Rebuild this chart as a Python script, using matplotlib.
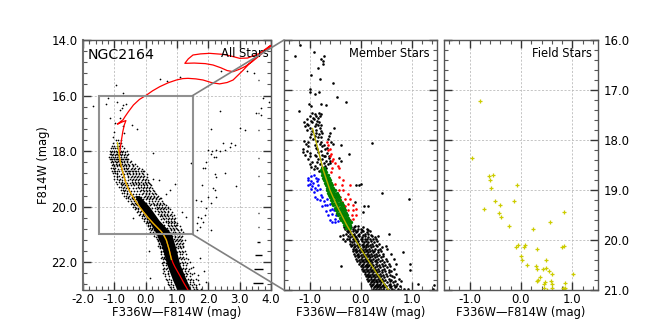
import matplotlib
matplotlib.use('Agg')
import matplotlib.pyplot as plt
from matplotlib.patches import ConnectionPatch, Rectangle
from matplotlib.ticker import MultipleLocator, FormatStrFormatter

# isochrone
iso_x = [1.35, 1.22, 1.1, 1.0, 0.93, 0.87, 0.82, 0.75, 0.66, 0.58, 0.5, 0.38, 0.24, 0.08, -0.08, -0.22, -0.34, -0.46, -0.56, -0.65, -0.72, -0.79, -0.84, -0.82, -0.78, -0.73,
         -0.68, -0.63, -0.75, -0.9, -0.85, -0.72, -0.66, -0.55, -0.39, -0.2, 0.03, 0.22, 0.45, 0.72, 0.98, 1.18, 1.35, 1.6, 1.83, 2.12, 2.36, 2.6, 2.79, 3.1, 3.42, 3.7, 3.98,
         3.7, 3.4, 3.18, 3.0, 2.79, 2.6, 2.4, 2.15, 1.9, 1.55, 1.25, 1.36, 1.51, 1.75, 2.04, 2.5, 2.8, 3.0, 3.25, 3.64, 3.98]
iso_y = [23, 22.75, 22.5, 22.3, 22.16, 22.02, 21.86, 21.55, 21.2, 21.03, 20.9, 20.76, 20.6, 20.4, 20.18, 19.97, 19.76, 19.55, 19.34, 19.08, 18.8, 18.5, 18.2, 17.95, 17.65, 17.3,
         17.05, 16.9, 16.95, 17.03, 16.98, 16.87, 16.76, 16.58, 16.34, 16.14, 15.98, 15.83, 15.68, 15.54, 15.44, 15.39, 15.38, 15.4, 15.44, 15.54, 15.58, 15.53, 15.44, 15.1, 14.72, 14.46, 14.22,
         14.5, 14.78, 14.95, 15.05, 15.14, 15.1, 15.0, 14.9, 14.85, 14.83, 14.84, 14.68, 14.54, 14.5, 14.48, 14.52, 14.6, 14.66, 14.65, 14.48, 14.2]
ridge_x = [-0.94, -0.83, -0.73, -0.6, -0.47, -0.27, 0.02, 0.32, 0.55]
ridge_y = [17.77, 18.2, 18.6, 19.0, 19.3, 19.7, 20.2, 20.67, 21.0]
ridge_all_x = [-0.9, -0.84, -0.79, -0.72, -0.65, -0.56, -0.46, -0.34, -0.22, -0.08, 0.08, 0.24, 0.38, 0.5, 0.58, 0.66, 0.75, 0.82]
ridge_all_y = [17.7, 18.2, 18.5, 18.8, 19.08, 19.34, 19.55, 19.76, 19.97, 20.18, 20.4, 20.6, 20.76, 20.9, 21.03, 21.2, 21.55, 21.9]

# solid core of the main sequence in the left panel
core_mag = [19.6, 20.0, 20.48, 20.96, 21.44, 22.04, 22.64, 23.0]
core_left = [-0.35, -0.2, 0.08, 0.33, 0.52, 0.66, 0.86, 1.0]
core_right = [-0.2, 0.12, 0.42, 0.82, 0.95, 1.08, 1.3, 1.45]

# left panel stars, magnitude rows
all_rows = [
    (17.6, [-0.95, -0.88, -0.8]),
    (17.7, [-1.03, -0.92, -0.85, -0.78]),
    (17.8, [-1.08, -1.0, -0.93, -0.85, -0.75]),
    (17.9, [-1.12, -1.05, -0.98, -0.9, -0.82, -0.7]),
    (18.0, [-1.15, -1.08, -1.02, -0.95, -0.88, -0.8, -0.72, -0.6]),
    (18.1, [-1.15, -1.1, -1.03, -0.96, -0.9, -0.83, -0.75, -0.66, -0.55]),
    (18.2, [-1.18, -1.1, -1.05, -0.98, -0.92, -0.85, -0.78, -0.7, -0.62]),
    (18.3, [-1.12, -1.06, -1.0, -0.94, -0.87, -0.8, -0.72, -0.64, -0.55]),
    (18.4, [-1.1, -1.03, -0.96, -0.9, -0.83, -0.75, -0.68, -0.6, -0.5]),
    (18.5, [-1.06, -1.0, -0.93, -0.86, -0.78, -0.7, -0.62, -0.52, -0.42]),
    (18.6, [-1.1, -1.04, -0.97, -0.7, -0.62, -0.55, -0.45, -0.35, -0.2]),
    (18.7, [-1.08, -1.0, -0.93, -0.65, -0.57, -0.5, -0.4, -0.3, -0.15, -0.05]),
    (18.8, [-1.05, -0.98, -0.9, -0.6, -0.52, -0.42, -0.32, -0.22, -0.12]),
    (18.9, [-1.0, -0.92, -0.85, -0.55, -0.45, -0.35, -0.25, -0.15, -0.05]),
    (19.0, [-1.0, -0.9, -0.82, -0.5, -0.4, -0.3, -0.2, -0.1, 0.0]),
    (19.1, [-0.95, -0.85, -0.75, -0.45, -0.35, -0.25, -0.15, -0.03, 0.08]),
    (19.2, [-0.9, -0.8, -0.72, -0.4, -0.3, -0.2, -0.1, 0.02, 0.15]),
    (19.3, [-0.85, -0.78, -0.7, -0.25, -0.15, -0.05, 0.05, 0.15]),
    (19.4, [-0.8, -0.72, -0.65, -0.15, -0.08, 0.02, 0.12, 0.22]),
    (19.5, [-0.75, -0.68, -0.6, -0.1, 0.0, 0.1, 0.2, 0.3]),
    (19.6, [-0.7, -0.62, -0.52, -0.03, 0.07, 0.17, 0.27, 0.38]),
    (19.7, [-0.62, -0.55, -0.45, 0.03, 0.13, 0.23, 0.33, 0.45]),
    (19.8, [-0.55, -0.47, -0.38, 0.1, 0.2, 0.3, 0.4, 0.52]),
    (19.9, [-0.48, -0.4, -0.3, 0.18, 0.27, 0.37, 0.47, 0.6]),
    (20.0, [-0.42, -0.33, 0.35, 0.43, 0.52, 0.62, 0.72]),
    (20.1, [-0.35, -0.25, 0.35, 0.45, 0.55, 0.65, 0.78]),
    (20.2, [-0.28, -0.18, 0.42, 0.52, 0.62, 0.72, 0.85]),
    (20.3, [-0.2, -0.1, 0.48, 0.58, 0.68, 0.78, 0.9]),
    (20.4, [-0.12, -0.03, 0.55, 0.65, 0.75, 0.85, 0.95]),
    (20.5, [-0.05, 0.03, 0.65, 0.72, 0.82, 0.92]),
    (20.6, [0.0, 0.08, 0.7, 0.8, 0.9, 1.0]),
    (20.7, [0.08, 0.15, 0.75, 0.85, 0.95, 1.08]),
    (20.8, [0.12, 0.2, 0.82, 0.9, 1.0, 1.12]),
    (20.9, [0.15, 0.22, 0.88, 0.95, 1.05, 1.2]),
    (21.0, [0.25, 0.32, 0.92, 1.0, 1.1]),
    (21.1, [0.33, 0.4, 0.95, 1.02, 1.12]),
    (21.2, [0.38, 0.45, 0.98, 1.05, 1.15, 1.25]),
    (21.3, [0.42, 1.0, 1.08, 1.18]),
    (21.4, [0.4, 0.47, 1.02, 1.1, 1.2]),
    (21.5, [0.45, 0.52, 1.02, 1.12]),
    (21.6, [0.48, 0.55, 1.05, 1.15, 1.25]),
    (21.7, [0.5, 0.57, 1.08, 1.17, 1.3]),
    (21.8, [0.52, 0.6, 1.1, 1.2]),
    (21.9, [0.55, 0.62, 1.12, 1.22, 1.35]),
    (22.0, [0.55, 0.6, 1.15, 1.25, 1.4]),
    (22.1, [0.55, 0.65, 1.18, 1.28]),
    (22.2, [0.58, 0.68, 1.2, 1.3, 1.45]),
    (22.3, [0.6, 0.7, 1.25, 1.35]),
    (22.4, [0.55, 0.7, 1.28, 1.4, 1.55]),
    (22.5, [0.62, 0.75, 1.3, 1.42]),
    (22.6, [0.65, 0.75, 1.35, 1.45, 1.6]),
    (22.7, [0.7, 0.8, 1.4, 1.5]),
    (22.8, [0.72, 0.82, 1.42, 1.55, 1.7]),
    (22.9, [0.78, 0.88, 1.5, 1.6]),
    (22.95, [0.8, 0.9, 1.55, 1.65, 1.75]),
    (18.03, [-1.1, -1.0, -0.9, -0.83, -0.76, -0.67]),
    (18.13, [-1.08, -0.97, -0.87, -0.8, -0.7, -0.6]),
    (18.27, [-1.14, -1.02, -0.93, -0.84, -0.76, -0.66, -0.58]),
    (18.37, [-1.07, -0.98, -0.88, -0.8, -0.7, -0.6, -0.48]),
    (18.46, [-1.04, -0.95, -0.85, -0.76, -0.66, -0.56, -0.45, -0.35]),
    (18.54, [-1.0, -0.9, -0.82, -0.73, -0.63, -0.53, -0.4, -0.28]),
    (18.63, [-1.0, -0.88, -0.78, -0.68, -0.58, -0.48, -0.38, -0.25, -0.12]),
    (18.72, [-0.97, -0.85, -0.75, -0.64, -0.54, -0.44, -0.34, -0.24, -0.1]),
    (18.83, [-0.93, -0.8, -0.7, -0.6, -0.5, -0.4, -0.3, -0.2, -0.08, 0.05]),
    (18.92, [-0.9, -0.77, -0.68, -0.57, -0.48, -0.38, -0.28, -0.18, -0.07, 0.03]),
    (19.03, [-0.85, -0.75, -0.65, -0.55, -0.44, -0.34, -0.24, -0.13, -0.03, 0.07]),
    (19.13, [-0.8, -0.7, -0.6, -0.5, -0.4, -0.3, -0.2, -0.08, 0.02, 0.12]),
    (19.23, [-0.76, -0.66, -0.55, -0.47, -0.36, -0.26, -0.16, -0.05, 0.05, 0.18]),
    (19.34, [-0.72, -0.62, -0.52, -0.42, -0.32, -0.2, -0.1, 0.0, 0.1, 0.2]),
    (19.44, [-0.68, -0.58, -0.48, -0.38, -0.27, -0.17, -0.05, 0.05, 0.15, 0.27]),
    (19.53, [-0.6, -0.5, -0.42, -0.32, -0.22, -0.12, 0.0, 0.1, 0.22, 0.32]),
    (19.64, [-0.55, -0.45, -0.37, -0.27, -0.16, -0.06, 0.05, 0.15, 0.27, 0.37]),
    (19.73, [-0.5, -0.4, -0.3, -0.1, 0.0, 0.1, 0.2, 0.32, 0.42]),
    (19.85, [-0.43, -0.33, -0.2, 0.0, 0.12, 0.22, 0.35, 0.45, 0.55]),
    (19.94, [-0.36, -0.27, 0.15, 0.25, 0.32, 0.42, 0.52, 0.65]),
    (20.05, [-0.3, -0.24, 0.2, 0.3, 0.4, 0.5, 0.6, 0.7]),
    (20.15, [-0.25, -0.16, 0.3, 0.4, 0.5, 0.6, 0.7]),
    (20.25, [-0.18, -0.1, 0.4, 0.5, 0.58, 0.68, 0.8]),
    (20.35, [-0.12, -0.04, 0.45, 0.53, 0.62, 0.72, 0.83]),
    (20.45, [-0.04, 0.04, 0.5, 0.6, 0.7, 0.8, 0.9]),
    (20.55, [0.04, 0.1, 0.55, 0.65, 0.75, 0.85, 0.95]),
    (20.65, [0.07, 0.14, 0.6, 0.7, 0.8, 0.9, 1.0]),
    (20.75, [0.13, 0.2, 0.68, 0.78, 0.88, 0.98]),
    (20.85, [0.18, 0.26, 0.72, 0.82, 0.92, 1.02, 1.12]),
    (20.95, [0.22, 0.3, 0.8, 0.88, 0.98, 1.08]),
    (21.05, [0.28, 0.38, 0.85, 0.95, 1.05, 1.15]),
    (21.15, [0.35, 0.43, 0.9, 1.0, 1.1]),
    (21.25, [0.4, 0.47, 0.93, 1.03, 1.13]),
    (21.35, [0.42, 0.5, 0.96, 1.06, 1.16]),
    (21.45, [0.45, 0.52, 0.98, 1.08, 1.2]),
    (21.63, [0.5, 0.58, 1.0, 1.1, 1.2]),
    (21.83, [0.48, 0.6, 1.05, 1.15, 1.28]),
    (22.03, [0.52, 0.64, 1.1, 1.2, 1.32]),
    (22.23, [0.56, 0.66, 1.15, 1.25, 1.38]),
    (22.43, [0.62, 0.72, 1.22, 1.33, 1.48]),
    (22.63, [0.68, 0.8, 1.28, 1.4, 1.52]),
    (22.83, [0.76, 0.86, 1.36, 1.48, 1.62]),
]
all_x = [-0.95, -0.72, -1.19, -1.67, -1.27, -0.93, -0.77, -0.72, -0.82, -0.64, -1.14, -0.98, -0.82, -0.72, -0.45, -0.29, -0.69, -1.03, -1.0,
         0.47, 0.69, 1.09, 2.4, 3.24, 3.45, 2.36, 3.0, 3.16, 3.76, 3.93, 3.53, 3.69, 3.69, 2.1, 0.22, 1.46,
         2.73, 2.84, 2.68, 2.47, 2.54, 2.26, 2.13, 2.36, 1.99, 2.07, 2.17, 2.26, 1.94, 1.83, 1.9, 2.2, 2.26, 2.54,
         2.89, 1.81, 2.15, 2.2, 2.26, 1.99, 1.62, 1.78, 2.1, 1.94, 1.89, 1.78, 1.67, 1.83, 1.65, 1.73, 1.64, 2.1, 1.73, 1.51, 1.85, 1.67, 1.94, 1.67,
         0.13, 0.11, 0.24, 0.42, 0.95, 0.77, 0.66, 0.5, 1.17, 1.28, -0.42, 0.98]
all_y = [15.62, 15.92, 16.1, 16.38, 16.3, 16.22, 16.46, 16.34, 16.52, 16.3, 16.82, 16.98, 16.79, 17.1, 17.06, 17.22, 17.36, 17.48, 17.3,
         15.39, 15.48, 15.34, 15.1, 15.1, 15.2, 16.56, 17.16, 17.24, 16.1, 16.22, 16.64, 16.7, 16.46, 17.2, 18.06, 18.44,
         17.69, 17.78, 17.84, 17.7, 17.96, 17.96, 18.0, 17.98, 17.96, 18.1, 18.2, 18.2, 18.38, 18.62, 18.62, 18.83, 18.92, 18.78,
         19.24, 19.22, 19.34, 19.4, 19.64, 19.64, 19.76, 19.8, 19.88, 20.06, 20.3, 20.42, 20.36, 20.54, 20.6, 20.72, 20.84, 20.84, 21.86, 22.16, 22.32, 22.46, 22.7, 22.64,
         22.58, 21.6, 19.0, 19.04, 19.18, 19.4, 19.54, 19.7, 20.18, 20.36, 20.42, 20.66]

# photometric error bars at the right edge of the left panel
err_mag = [15.44, 16.64, 17.24, 18.26, 18.9, 20.24, 20.74, 21.26, 21.74, 22.25, 22.76]
err_col = [0.01, 0.01, 0.01, 0.01, 0.01, 0.02, 0.03, 0.06, 0.1, 0.13, 0.16]

# member stars, middle panel
mem_x = [-1.19, -1.28, -0.92, -0.72, -0.78, -0.74, -0.73, -0.84, -0.97, -0.79, -0.54, -0.99, -0.99, -0.9, -0.81, -0.46, -0.29, -1.01, -0.98, -0.78, -0.68, -1.21,
         0.22, -0.23, -0.39, -0.51, 0.42, 0.96, -0.03, 0.01, -0.09, -0.11, 0.06, 0.14, 0.04, 0.55, 0.84, 0.97, 0.97, 1.13, 1.44, 1.43, 0.94]
mem_y = [16.09, 16.32, 16.23, 16.33, 16.38, 16.41, 16.48, 16.55, 16.69, 16.77, 16.85, 16.99, 17.04, 17.07, 17.03, 17.13, 17.23, 17.28, 17.33, 17.27, 17.3, 17.41,
         18.05, 18.27, 18.1, 17.75, 19.05, 19.18, 18.89, 18.88, 18.9, 19.23, 19.33, 19.32, 19.43, 19.87, 20.23, 20.47, 20.6, 20.87, 20.9, 20.97, 20.97]
mem_rows = [
    (17.46, [-0.95, -0.82]), (17.49, [-0.9, -0.78]),
    (17.52, [-1.0, -0.88, -0.79]), (17.56, [-0.93, -0.83]),
    (17.58, [-1.05, -0.92]), (17.62, [-0.98, -0.85]),
    (17.63, [-1.1, -0.95, -0.82]), (17.67, [-1.05, -0.88]),
    (17.69, [-1.03, -0.84, -0.78]), (17.72, [-1.08, -0.9]),
    (17.76, [-1.0, -0.8]), (17.79, [-1.05, -0.87]),
    (17.82, [-0.95, -0.78]), (17.86, [-0.88, -0.76, -0.6]),
    (17.88, [-0.98, -0.82]), (17.92, [-0.9, -0.62]),
    (17.94, [-1.0, -0.83, -0.78]), (17.97, [-0.93, -0.63]),
    (18.01, [-1.1, -0.85]), (18.04, [-1.03, -0.77, -0.58]),
    (18.07, [-1.07, -0.8, -0.53]), (18.09, [-0.9, -0.72]),
    (18.12, [-1.02, -0.75]), (18.16, [-0.88, -0.65]),
    (18.18, [-1.12, -0.85, -0.7]), (18.21, [-1.05, -0.78]),
    (18.23, [-1.13, -0.83]), (18.26, [-1.0, -0.65]),
    (18.29, [-1.08, -0.9, -0.75]), (18.32, [-0.62, -0.72]),
    (18.33, [-1.0, -0.87, -0.7]), (18.36, [-0.62, -0.42]),
    (18.38, [-1.03, -0.83, -0.75]), (18.41, [-0.67, -0.6, -0.38]),
    (18.43, [-0.95, -0.85]), (18.46, [-0.72, -0.6]),
    (18.48, [-1.0, -0.8, -0.63]), (18.51, [-0.9, -0.7]),
    (18.53, [-0.97, -0.75]), (18.56, [-0.85, -0.68]),
    (18.58, [-0.92, -0.72]), (18.61, [-0.82, -0.78]),
    (19.71, [-0.3, -0.2, -0.1, -0.05]),
    (19.74, [-0.32, -0.18, -0.12, 0.04]),
    (19.77, [-0.3, -0.25, -0.15, -0.05, 0.0, 0.12]),
    (19.79, [-0.22, -0.1, 0.02, 0.15]),
    (19.82, [-0.27, -0.2, -0.14, -0.06, 0.05, 0.18]),
    (19.84, [-0.24, -0.08, 0.0, 0.12]),
    (19.87, [-0.28, -0.2, -0.12, -0.03, 0.08, 0.15]),
    (19.89, [-0.34, -0.15, -0.05, 0.04, 0.2]),
    (19.92, [-0.4, -0.25, -0.17, -0.1, -0.02, 0.08, 0.22, 0.35]),
    (19.94, [-0.2, -0.08, 0.03, 0.14, 0.28]),
    (19.97, [-0.35, -0.22, -0.14, -0.06, 0.02, 0.12, 0.24]),
    (19.99, [-0.26, -0.1, 0.0, 0.08, 0.18, 0.3]),
    (20.02, [-0.3, -0.2, -0.12, -0.05, 0.03, 0.1, 0.2, 0.32]),
    (20.04, [-0.16, -0.07, 0.06, 0.15, 0.26]),
    (20.07, [-0.2, -0.12, -0.03, 0.05, 0.13, 0.22, 0.36]),
    (20.09, [-0.16, -0.06, 0.02, 0.1, 0.19, 0.3]),
    (20.12, [-0.18, -0.1, -0.02, 0.06, 0.15, 0.25, 0.32, 0.5]),
    (20.14, [-0.12, -0.04, 0.04, 0.11, 0.21, 0.43]),
    (20.17, [-0.15, -0.08, 0.0, 0.08, 0.16, 0.28, 0.38, 0.52]),
    (20.19, [-0.11, -0.03, 0.05, 0.13, 0.23, 0.34]),
    (20.22, [-0.14, -0.06, 0.02, 0.1, 0.18, 0.27, 0.4]),
    (20.24, [-0.09, -0.01, 0.07, 0.15, 0.24, 0.35]),
    (20.27, [-0.12, -0.04, 0.04, 0.12, 0.2, 0.3, 0.44, 0.6]),
    (20.29, [-0.07, 0.01, 0.09, 0.17, 0.26, 0.37]),
    (20.32, [-0.1, -0.02, 0.06, 0.14, 0.22, 0.32, 0.45]),
    (20.34, [-0.05, 0.03, 0.11, 0.19, 0.28, 0.4]),
    (20.37, [-0.08, 0.0, 0.08, 0.16, 0.25, 0.35, 0.5, 0.65]),
    (20.39, [-0.03, 0.05, 0.13, 0.21, 0.31, 0.42]),
    (20.42, [-0.06, 0.02, 0.1, 0.18, 0.28, 0.38, 0.52]),
    (20.44, [-0.01, 0.07, 0.15, 0.23, 0.33, 0.47]),
    (20.47, [-0.03, 0.05, 0.13, 0.2, 0.3, 0.42, 0.55, 0.7]),
    (20.49, [0.02, 0.1, 0.17, 0.25, 0.36, 0.48]),
    (20.52, [-0.38, 0.0, 0.08, 0.15, 0.23, 0.32, 0.44, 0.58]),
    (20.54, [0.05, 0.12, 0.2, 0.29, 0.39, 0.52]),
    (20.57, [0.03, 0.1, 0.18, 0.26, 0.35, 0.46, 0.65]),
    (20.59, [0.07, 0.15, 0.23, 0.31, 0.42, 0.56]),
    (20.62, [0.05, 0.12, 0.2, 0.28, 0.36, 0.48, 0.6]),
    (20.64, [0.09, 0.17, 0.25, 0.33, 0.43, 0.55]),
    (20.67, [0.08, 0.15, 0.22, 0.3, 0.38, 0.5, 0.7]),
    (20.69, [0.12, 0.19, 0.27, 0.35, 0.45, 0.58]),
    (20.72, [0.1, 0.17, 0.24, 0.32, 0.4, 0.52, 0.62]),
    (20.74, [0.14, 0.21, 0.29, 0.37, 0.47, 0.66]),
    (20.77, [0.12, 0.2, 0.27, 0.34, 0.42, 0.55, 0.75]),
    (20.79, [0.16, 0.24, 0.31, 0.39, 0.49, 0.6]),
    (20.82, [0.14, 0.22, 0.3, 0.36, 0.44, 0.58, 0.68, 0.8]),
    (20.84, [0.2, 0.27, 0.33, 0.41, 0.52, 0.63]),
    (20.87, [0.18, 0.25, 0.32, 0.38, 0.46, 0.58, 0.72]),
    (20.89, [0.23, 0.3, 0.36, 0.44, 0.55, 0.66]),
    (20.92, [0.2, 0.28, 0.34, 0.42, 0.5, 0.6, 0.7, 0.78]),
    (20.94, [0.26, 0.33, 0.39, 0.47, 0.57, 0.68]),
    (20.97, [0.24, 0.3, 0.36, 0.44, 0.52, 0.62, 0.74, 0.85]),
    (20.99, [0.28, 0.34, 0.4, 0.46, 0.55, 0.65, 0.78]),
]

red_x = [-0.66, -0.63, -0.6, -0.64, -0.57, -0.6, -0.53, -0.56, -0.5, -0.45, -0.42, -0.55, -0.57, -0.43, -0.34, -0.5, -0.37, -0.2, -0.34, -0.43, -0.24, -0.4, -0.3, -0.2,
         -0.37, -0.24, -0.3, -0.14, -0.08, -0.34, -0.24, -0.14, -0.3, -0.17, -0.27, -0.09, -0.2, -0.14]
red_y = [18.03, 18.1, 18.17, 18.2, 18.27, 18.33, 18.37, 18.42, 18.46, 18.52, 18.56, 18.55, 18.63, 18.73, 18.8, 18.87, 18.9, 18.9, 19.0, 19.0, 19.07, 19.13, 19.17, 19.17,
         19.23, 19.27, 19.33, 19.3, 19.37, 19.4, 19.4, 19.4, 19.5, 19.5, 19.57, 19.5, 19.6, 19.57]
blue_x = [-1.02, -0.98, -0.92, -0.88, -0.83, -1.02, -0.97, -1.0, -0.93, -0.85, -1.03, -0.96, -0.9, -0.83, -0.98, -0.92, -0.86, -0.8, -0.78, -0.9, -0.85, -0.8, -0.75, -0.72,
          -0.65, -0.7, -0.76, -0.65, -0.6, -0.68, -0.6, -0.55, -0.63, -0.55, -0.6, -0.55, -0.5, -0.48, -0.52, -0.5, -0.45]
blue_y = [18.75, 18.72, 18.7, 18.76, 18.78, 18.8, 18.83, 18.87, 18.85, 18.83, 18.9, 18.92, 18.95, 18.9, 18.98, 19.03, 19.0, 18.97, 19.1, 19.13, 19.17, 19.2, 19.15, 19.22,
          19.18, 19.3, 19.33, 19.3, 19.28, 19.42, 19.4, 19.38, 19.5, 19.48, 19.6, 19.63, 19.58, 19.5, 19.4, 19.65, 19.62]
green_rows = [
    (18.55, [-0.76, -0.72]),
    (18.6, [-0.78, -0.74, -0.7]),
    (18.65, [-0.76, -0.72, -0.68]),
    (18.7, [-0.75, -0.71, -0.67, -0.64]),
    (18.75, [-0.73, -0.69, -0.65, -0.62]),
    (18.8, [-0.72, -0.68, -0.64, -0.6]),
    (18.85, [-0.7, -0.66, -0.62, -0.58]),
    (18.9, [-0.68, -0.64, -0.6, -0.56]),
    (18.95, [-0.66, -0.62, -0.58, -0.54]),
    (19.0, [-0.66, -0.62, -0.58, -0.54, -0.5]),
    (19.05, [-0.63, -0.59, -0.55, -0.51, -0.47]),
    (19.1, [-0.62, -0.58, -0.53, -0.49, -0.45]),
    (19.15, [-0.6, -0.55, -0.5, -0.46, -0.42]),
    (19.2, [-0.58, -0.53, -0.48, -0.44, -0.4]),
    (19.25, [-0.55, -0.5, -0.46, -0.41, -0.37]),
    (19.3, [-0.53, -0.48, -0.44, -0.39, -0.35]),
    (19.35, [-0.5, -0.46, -0.41, -0.37, -0.33]),
    (19.4, [-0.48, -0.44, -0.39, -0.35, -0.3]),
    (19.45, [-0.46, -0.41, -0.37, -0.33, -0.28]),
    (19.5, [-0.44, -0.39, -0.35, -0.3, -0.26]),
    (19.55, [-0.41, -0.37, -0.33, -0.28, -0.24]),
    (19.6, [-0.38, -0.34, -0.3, -0.26, -0.22]),
    (19.65, [-0.35, -0.31, -0.27, -0.23, -0.19]),
    (19.7, [-0.32, -0.28, -0.24, -0.2]),
    (19.75, [-0.28, -0.25, -0.21]),
]

# field stars, right panel
field_x = [-0.8, -0.96, -0.63, -0.54, -0.6, -0.07, -0.58, -0.5, -0.13, -0.4, -0.72, -0.42, -0.39, 0.83, 0.57, -0.23, 0.23, -0.05, 0.07, -0.09, 0.05, 0.32, 0.84, 0.79,
           0.0, 0.02, 0.48, 0.12, 0.29, 0.32, 0.42, 0.49, 0.54, 0.6, 1.02, 0.37, 0.33, 0.31, 0.47, 0.58, 0.85, 0.44, 0.61, 0.44, 0.6, 0.82, 0.85, 0.84, 0.51]
field_y = [17.21, 18.35, 18.71, 18.69, 18.8, 18.89, 18.95, 19.21, 19.21, 19.31, 19.38, 19.45, 19.53, 19.43, 19.63, 19.72, 19.77, 20.09, 20.09, 20.15, 20.15, 20.17, 20.12, 20.15,
           20.33, 20.4, 20.4, 20.5, 20.52, 20.57, 20.57, 20.55, 20.61, 20.67, 20.67, 20.73, 20.79, 20.82, 20.83, 20.82, 20.85, 20.88, 20.88, 20.95, 20.95, 20.95, 20.95, 20.98, 20.99]


def flatten(rows):
    xs, ys = [], []
    for mag, cols in rows:
        xs += cols
        ys += [mag] * len(cols)
    return xs, ys


def style(ax, xmaj, ymaj, ymin):
    ax.xaxis.set_major_locator(MultipleLocator(xmaj))
    ax.xaxis.set_minor_locator(MultipleLocator(0.2))
    ax.yaxis.set_major_locator(MultipleLocator(ymaj))
    ax.yaxis.set_minor_locator(MultipleLocator(ymin))
    ax.xaxis.set_major_formatter(FormatStrFormatter('%.1f'))
    ax.yaxis.set_major_formatter(FormatStrFormatter('%.1f'))
    ax.tick_params(which='major', direction='in', top=True, right=True, length=6, width=1, color='#333333', labelsize=8.5)
    ax.tick_params(axis='x', which='major', pad=2)
    ax.tick_params(axis='y', which='major', pad=4)
    ax.tick_params(which='minor', direction='in', top=True, right=True, length=3, width=0.8, color='#555555')
    ax.grid(True, which='major', ls=(0, (2.5, 2)), lw=0.6, color='#bbbbbb')
    ax.set_axisbelow(True)
    ax.set_xlabel('F336W\u2014F814W (mag)', fontsize=8.3, labelpad=0)
    for s in ax.spines.values():
        s.set_color('#555555')
        s.set_linewidth(1)


W, H = 664.0, 332.0
fig = plt.figure(figsize=(6.64, 3.32), dpi=100)
ax1 = fig.add_axes([83 / W, 1 - 290 / H, 188 / W, 250 / H])
ax2 = fig.add_axes([284 / W, 1 - 290 / H, 153 / W, 250 / H])
ax3 = fig.add_axes([444 / W, 1 - 290 / H, 154 / W, 250 / H])

# left panel
ax1.fill_betweenx(core_mag, core_left, core_right, color='k', lw=0, zorder=2)
rx, ry = flatten(all_rows)
ax1.scatter(rx + all_x, ry + all_y, s=1.5, c='k', lw=0, zorder=2)
ax1.errorbar([3.6] * len(err_mag), err_mag, xerr=err_col, fmt='none', ecolor='k', elinewidth=1, zorder=2)
ax1.plot(iso_x, iso_y, color='r', lw=0.9, zorder=3)
ax1.plot(ridge_all_x, ridge_all_y, color='#d4c400', lw=0.9, zorder=4)
ax1.add_patch(Rectangle((-1.5, 16), 3, 5, fill=False, ec='#909090', lw=1.5, zorder=5))
ax1.set_xlim(-2, 4)
ax1.set_ylim(23, 14)
style(ax1, 1, 2, 0.4)
ax1.spines['left'].set_linewidth(1.5)
ax1.spines['left'].set_color('#707070')
ax1.set_ylabel('F814W (mag)', fontsize=8.3, labelpad=1)
ax1.text(0.025, 0.94, 'NGC2164', transform=ax1.transAxes, fontsize=10.2, va='center')
ax1.text(0.99, 0.945, 'All Stars', transform=ax1.transAxes, fontsize=8.3, va='center', ha='right', zorder=6)

# middle panel
mx, my = flatten(mem_rows)
gx, gy = flatten(green_rows)
ax2.scatter(mx + mem_x, my + mem_y, s=3.5, c='k', lw=0, zorder=2)
ax2.scatter(red_x, red_y, s=3.5, c='r', lw=0, zorder=2)
ax2.scatter(blue_x, blue_y, s=3.5, c='b', lw=0, zorder=2)
ax2.scatter(gx, gy, s=6, c='g', lw=0, zorder=3)
ax2.plot(ridge_x, ridge_y, color='#b8b000', lw=1, zorder=4)
ax2.set_xlim(-1.5, 1.5)
ax2.set_ylim(21, 16)
style(ax2, 1, 1, 0.2)
ax2.tick_params(labelleft=False)
ax2.text(0.955, 0.945, 'Member Stars', transform=ax2.transAxes, fontsize=8.3, va='center', ha='right')

# right panel
ax3.scatter(field_x, field_y, s=9, marker='+', c='#cccc00', lw=0.9, zorder=2)
ax3.set_xlim(-1.5, 1.5)
ax3.set_ylim(21, 16)
style(ax3, 1, 1, 0.2)
ax3.tick_params(labelleft=False, labelright=True)
ax3.text(0.96, 0.945, 'Field Stars', transform=ax3.transAxes, fontsize=8.3, va='center', ha='right')

# zoom lines from the box to the middle panel
for yb, ya in [(16, 16), (21, 21)]:
    fig.add_artist(ConnectionPatch((1.5, yb), (-1.5, ya), 'data', 'data', axesA=ax1, axesB=ax2, color='#808080', lw=1.2, zorder=10))

fig.savefig('out.png', dpi=100)
